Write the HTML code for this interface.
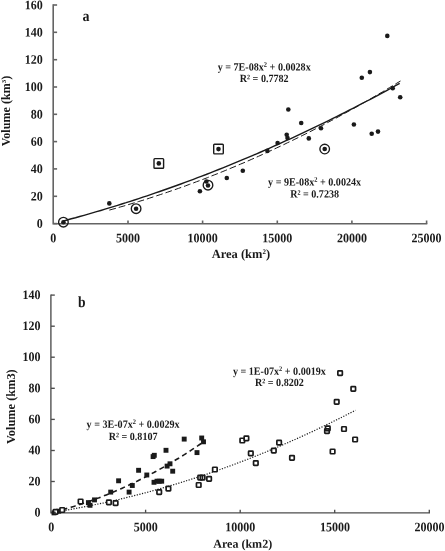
<!DOCTYPE html>
<html><head><meta charset="utf-8"><title>Volume vs Area</title>
<style>html,body{margin:0;padding:0;background:#fff}svg{display:block;will-change:transform}text{font-family:"Liberation Serif",serif;font-weight:bold;fill:#1a1a1a}</style></head><body>
<svg width="445" height="551" viewBox="0 0 445 551">
<rect width="445" height="551" fill="#fff"/>
<g stroke="#646464" stroke-width="1.6" fill="none">
<path d="M53.2 4.3 V223.8 H427.3"/>
<path d="M53.3 223.6 h3.8"/>
<path d="M53.3 196.3 h3.8"/>
<path d="M53.3 168.9 h3.8"/>
<path d="M53.3 141.6 h3.8"/>
<path d="M53.3 114.3 h3.8"/>
<path d="M53.3 87.0 h3.8"/>
<path d="M53.3 59.7 h3.8"/>
<path d="M53.3 32.3 h3.8"/>
<path d="M53.3 5.0 h3.8"/>
<path d="M128.0 223.8 v-3.3"/>
<path d="M202.6 223.8 v-3.3"/>
<path d="M277.3 223.8 v-3.3"/>
<path d="M351.9 223.8 v-3.3"/>
<path d="M426.6 223.8 v-3.3"/>
</g>
<text transform="translate(42.80 227.75) rotate(0.03) scale(0.925 1)" font-size="13.0" text-anchor="end">0</text>
<text transform="translate(42.80 200.43) rotate(0.03) scale(0.925 1)" font-size="13.0" text-anchor="end">20</text>
<text transform="translate(42.80 173.10) rotate(0.03) scale(0.925 1)" font-size="13.0" text-anchor="end">40</text>
<text transform="translate(42.80 145.78) rotate(0.03) scale(0.925 1)" font-size="13.0" text-anchor="end">60</text>
<text transform="translate(42.80 118.45) rotate(0.03) scale(0.925 1)" font-size="13.0" text-anchor="end">80</text>
<text transform="translate(42.80 91.12) rotate(0.03) scale(0.925 1)" font-size="13.0" text-anchor="end">100</text>
<text transform="translate(42.80 63.80) rotate(0.03) scale(0.925 1)" font-size="13.0" text-anchor="end">120</text>
<text transform="translate(42.80 36.47) rotate(0.03) scale(0.925 1)" font-size="13.0" text-anchor="end">140</text>
<text transform="translate(42.80 9.15) rotate(0.03) scale(0.925 1)" font-size="13.0" text-anchor="end">160</text>
<text transform="translate(53.30 242.15) rotate(0.03) scale(0.925 1)" font-size="13.0" text-anchor="middle">0</text>
<text transform="translate(127.96 242.15) rotate(0.03) scale(0.925 1)" font-size="13.0" text-anchor="middle">5000</text>
<text transform="translate(202.62 242.15) rotate(0.03) scale(0.925 1)" font-size="13.0" text-anchor="middle">10000</text>
<text transform="translate(277.28 242.15) rotate(0.03) scale(0.925 1)" font-size="13.0" text-anchor="middle">15000</text>
<text transform="translate(351.94 242.15) rotate(0.03) scale(0.925 1)" font-size="13.0" text-anchor="middle">20000</text>
<text transform="translate(426.60 242.15) rotate(0.03) scale(0.925 1)" font-size="13.0" text-anchor="middle">25000</text>
<text transform="translate(240.90 257.90) rotate(0.03) scale(1 1)" font-size="12.5" text-anchor="middle">Area (km<tspan font-size="7" dy="-3.8">2</tspan><tspan dy="3.8">)</tspan></text>
<text transform="translate(9.60 111.00) rotate(-90) scale(1 1)" font-size="12.1" text-anchor="middle">Volume (km<tspan font-size="7" dy="-4">3</tspan><tspan dy="4">)</tspan></text>
<text transform="translate(86.00 21.00) rotate(0.03) scale(0.9 1)" font-size="15.6" text-anchor="middle">a</text>
<polyline points="62.9,221.1 67.1,220.0 71.3,218.8 75.5,217.7 79.7,216.5 84.0,215.3 88.2,214.1 92.4,212.9 96.6,211.7 100.8,210.5 105.0,209.2 109.2,207.9 113.4,206.6 117.6,205.3 121.8,204.0 126.1,202.7 130.3,201.3 134.5,200.0 138.7,198.6 142.9,197.2 147.1,195.8 151.3,194.4 155.5,192.9 159.7,191.5 163.9,190.0 168.2,188.5 172.4,187.0 176.6,185.5 180.8,184.0 185.0,182.4 189.2,180.9 193.4,179.3 197.6,177.7 201.8,176.1 206.1,174.5 210.3,172.8 214.5,171.2 218.7,169.5 222.9,167.8 227.1,166.1 231.3,164.4 235.5,162.7 239.7,160.9 243.9,159.2 248.2,157.4 252.4,155.6 256.6,153.8 260.8,152.0 265.0,150.1 269.2,148.3 273.4,146.4 277.6,144.5 281.8,142.6 286.0,140.7 290.3,138.8 294.5,136.9 298.7,134.9 302.9,132.9 307.1,130.9 311.3,128.9 315.5,126.9 319.7,124.9 323.9,122.8 328.1,120.8 332.4,118.7 336.6,116.6 340.8,114.5 345.0,112.4 349.2,110.2 353.4,108.1 357.6,105.9 361.8,103.7 366.0,101.5 370.3,99.3 374.5,97.1 378.7,94.8 382.9,92.6 387.1,90.3 391.3,88.0 395.5,85.7 399.7,83.4" fill="none" stroke="#1a1a1a" stroke-width="1.4"/>
<polyline points="109.3,210.1 112.9,209.1 116.6,208.1 120.2,207.0 123.9,206.0 127.5,204.9 131.1,203.8 134.8,202.7 138.4,201.6 142.1,200.5 145.7,199.4 149.3,198.2 153.0,197.0 156.6,195.8 160.3,194.6 163.9,193.4 167.5,192.2 171.2,190.9 174.8,189.7 178.4,188.4 182.1,187.1 185.7,185.8 189.4,184.4 193.0,183.1 196.6,181.7 200.3,180.4 203.9,179.0 207.6,177.6 211.2,176.1 214.8,174.7 218.5,173.3 222.1,171.8 225.8,170.3 229.4,168.8 233.0,167.3 236.7,165.8 240.3,164.2 244.0,162.7 247.6,161.1 251.2,159.5 254.9,157.9 258.5,156.3 262.2,154.6 265.8,153.0 269.4,151.3 273.1,149.6 276.7,147.9 280.4,146.2 284.0,144.5 287.6,142.7 291.3,141.0 294.9,139.2 298.6,137.4 302.2,135.6 305.8,133.8 309.5,132.0 313.1,130.1 316.8,128.2 320.4,126.4 324.0,124.5 327.7,122.5 331.3,120.6 335.0,118.7 338.6,116.7 342.2,114.7 345.9,112.7 349.5,110.7 353.2,108.7 356.8,106.7 360.4,104.6 364.1,102.5 367.7,100.5 371.4,98.4 375.0,96.2 378.6,94.1 382.3,92.0 385.9,89.8 389.5,87.6 393.2,85.4 396.8,83.2 400.5,81.0" fill="none" stroke="#1a1a1a" stroke-width="1" stroke-dasharray="6.8 3"/>
<circle cx="63.4" cy="222.2" r="2.3" fill="#1a1a1a"/>
<circle cx="109.3" cy="203.4" r="2.3" fill="#1a1a1a"/>
<circle cx="136.1" cy="208.7" r="2.3" fill="#1a1a1a"/>
<circle cx="158.8" cy="163.4" r="2.3" fill="#1a1a1a"/>
<circle cx="218.5" cy="149.1" r="2.3" fill="#1a1a1a"/>
<circle cx="199.9" cy="191.3" r="2.3" fill="#1a1a1a"/>
<circle cx="206.4" cy="181.5" r="2.3" fill="#1a1a1a"/>
<circle cx="208.0" cy="185.5" r="2.3" fill="#1a1a1a"/>
<circle cx="226.8" cy="178.0" r="2.3" fill="#1a1a1a"/>
<circle cx="242.8" cy="170.7" r="2.3" fill="#1a1a1a"/>
<circle cx="267.4" cy="150.9" r="2.3" fill="#1a1a1a"/>
<circle cx="277.6" cy="143.0" r="2.3" fill="#1a1a1a"/>
<circle cx="286.7" cy="134.7" r="2.3" fill="#1a1a1a"/>
<circle cx="287.5" cy="138.0" r="2.3" fill="#1a1a1a"/>
<circle cx="288.3" cy="109.5" r="2.3" fill="#1a1a1a"/>
<circle cx="301.2" cy="123.0" r="2.3" fill="#1a1a1a"/>
<circle cx="308.8" cy="138.4" r="2.3" fill="#1a1a1a"/>
<circle cx="321.0" cy="128.3" r="2.3" fill="#1a1a1a"/>
<circle cx="324.7" cy="149.0" r="2.3" fill="#1a1a1a"/>
<circle cx="353.9" cy="124.5" r="2.3" fill="#1a1a1a"/>
<circle cx="371.7" cy="133.7" r="2.3" fill="#1a1a1a"/>
<circle cx="378.0" cy="131.6" r="2.3" fill="#1a1a1a"/>
<circle cx="387.3" cy="35.9" r="2.3" fill="#1a1a1a"/>
<circle cx="369.9" cy="72.1" r="2.3" fill="#1a1a1a"/>
<circle cx="361.8" cy="77.7" r="2.3" fill="#1a1a1a"/>
<circle cx="392.7" cy="88.2" r="2.3" fill="#1a1a1a"/>
<circle cx="400.2" cy="97.2" r="2.3" fill="#1a1a1a"/>
<circle cx="63.4" cy="222.2" r="4.8" fill="none" stroke="#1a1a1a" stroke-width="1.35"/>
<circle cx="136.1" cy="208.7" r="4.8" fill="none" stroke="#1a1a1a" stroke-width="1.35"/>
<circle cx="208.0" cy="185.2" r="4.8" fill="none" stroke="#1a1a1a" stroke-width="1.35"/>
<circle cx="324.7" cy="149.0" r="4.8" fill="none" stroke="#1a1a1a" stroke-width="1.35"/>
<rect x="154.0" y="158.6" width="9.6" height="9.6" rx="0.8" fill="none" stroke="#1a1a1a" stroke-width="1.4"/>
<rect x="213.7" y="144.3" width="9.6" height="9.6" rx="0.8" fill="none" stroke="#1a1a1a" stroke-width="1.4"/>
<text transform="translate(264.20 70.40) rotate(0.03) scale(0.92 1)" font-size="11.0" text-anchor="middle">y = 7E-08x<tspan font-size="7" dy="-3.7">2</tspan><tspan dy="3.7"> + 0.0028x</tspan></text>
<text transform="translate(264.20 82.00) rotate(0.03) scale(0.92 1)" font-size="11.0" text-anchor="middle">R² = 0.7782</text>
<text transform="translate(314.60 185.50) rotate(0.03) scale(0.92 1)" font-size="11.0" text-anchor="middle">y = 9E-08x<tspan font-size="7" dy="-3.7">2</tspan><tspan dy="3.7"> + 0.0024x</tspan></text>
<text transform="translate(314.60 197.60) rotate(0.03) scale(0.92 1)" font-size="11.0" text-anchor="middle">R² = 0.7238</text>
<g stroke="#4d4d4d" stroke-width="1.35" fill="none">
<path d="M50.9 294.4 V512.9 H430.0"/>
<path d="M51.0 512.6 h3.8"/>
<path d="M51.0 481.5 h3.8"/>
<path d="M51.0 450.5 h3.8"/>
<path d="M51.0 419.4 h3.8"/>
<path d="M51.0 388.3 h3.8"/>
<path d="M51.0 357.2 h3.8"/>
<path d="M51.0 326.2 h3.8"/>
<path d="M51.0 295.1 h3.8"/>
<path d="M145.6 512.9 v-3.2"/>
<path d="M240.2 512.9 v-3.2"/>
<path d="M334.7 512.9 v-3.2"/>
<path d="M429.3 512.9 v-3.2"/>
</g>
<text transform="translate(40.60 516.45) rotate(0.03) scale(0.925 1)" font-size="13.0" text-anchor="end">0</text>
<text transform="translate(40.60 485.38) rotate(0.03) scale(0.925 1)" font-size="13.0" text-anchor="end">20</text>
<text transform="translate(40.60 454.31) rotate(0.03) scale(0.925 1)" font-size="13.0" text-anchor="end">40</text>
<text transform="translate(40.60 423.24) rotate(0.03) scale(0.925 1)" font-size="13.0" text-anchor="end">60</text>
<text transform="translate(40.60 392.16) rotate(0.03) scale(0.925 1)" font-size="13.0" text-anchor="end">80</text>
<text transform="translate(40.60 361.09) rotate(0.03) scale(0.925 1)" font-size="13.0" text-anchor="end">100</text>
<text transform="translate(40.60 330.02) rotate(0.03) scale(0.925 1)" font-size="13.0" text-anchor="end">120</text>
<text transform="translate(40.60 298.95) rotate(0.03) scale(0.925 1)" font-size="13.0" text-anchor="end">140</text>
<text transform="translate(51.20 531.30) rotate(0.03) scale(0.925 1)" font-size="13.0" text-anchor="middle">0</text>
<text transform="translate(145.77 531.30) rotate(0.03) scale(0.925 1)" font-size="13.0" text-anchor="middle">5000</text>
<text transform="translate(240.35 531.30) rotate(0.03) scale(0.925 1)" font-size="13.0" text-anchor="middle">10000</text>
<text transform="translate(334.93 531.30) rotate(0.03) scale(0.925 1)" font-size="13.0" text-anchor="middle">15000</text>
<text transform="translate(429.50 531.30) rotate(0.03) scale(0.925 1)" font-size="13.0" text-anchor="middle">20000</text>
<text transform="translate(242.70 547.80) rotate(0.03) scale(1 1)" font-size="12.05" text-anchor="middle">Area (km2)</text>
<text transform="translate(14.50 406.60) rotate(-90) scale(1 1)" font-size="12.35" text-anchor="middle">Volume (km3)</text>
<text transform="translate(81.80 307.10) rotate(0.03) scale(0.88 1)" font-size="15.4" text-anchor="middle">b</text>
<polyline points="62.2,509.7 64.0,509.3 65.7,508.8 67.5,508.3 69.3,507.8 71.0,507.2 72.8,506.7 74.5,506.2 76.3,505.6 78.1,505.1 79.8,504.5 81.6,503.9 83.4,503.3 85.1,502.8 86.9,502.2 88.6,501.5 90.4,500.9 92.2,500.3 93.9,499.7 95.7,499.0 97.5,498.3 99.2,497.7 101.0,497.0 102.8,496.3 104.5,495.6 106.3,494.9 108.0,494.2 109.8,493.5 111.6,492.8 113.3,492.0 115.1,491.3 116.9,490.5 118.6,489.7 120.4,489.0 122.2,488.2 123.9,487.4 125.7,486.6 127.4,485.8 129.2,484.9 131.0,484.1 132.7,483.3 134.5,482.4 136.3,481.6 138.0,480.7 139.8,479.8 141.5,478.9 143.3,478.0 145.1,477.1 146.8,476.2 148.6,475.3 150.4,474.4 152.1,473.4 153.9,472.5 155.7,471.5 157.4,470.5 159.2,469.6 160.9,468.6 162.7,467.6 164.5,466.6 166.2,465.5 168.0,464.5 169.8,463.5 171.5,462.4 173.3,461.4 175.1,460.3 176.8,459.3 178.6,458.2 180.3,457.1 182.1,456.0 183.9,454.9 185.6,453.8 187.4,452.6 189.2,451.5 190.9,450.4 192.7,449.2 194.4,448.1 196.2,446.9 198.0,445.7 199.7,444.5 201.5,443.3 203.3,442.1" fill="none" stroke="#1a1a1a" stroke-width="1.6" stroke-dasharray="5.2 3.6"/>
<polyline points="54.8,512.0 58.5,511.4 62.3,510.8 66.1,510.2 69.8,509.5 73.6,508.8 77.3,508.1 81.1,507.4 84.9,506.7 88.6,506.0 92.4,505.2 96.1,504.4 99.9,503.7 103.7,502.9 107.4,502.0 111.2,501.2 114.9,500.3 118.7,499.5 122.5,498.6 126.2,497.7 130.0,496.7 133.7,495.8 137.5,494.8 141.2,493.9 145.0,492.9 148.8,491.9 152.5,490.8 156.3,489.8 160.0,488.7 163.8,487.6 167.6,486.6 171.3,485.4 175.1,484.3 178.8,483.2 182.6,482.0 186.4,480.8 190.1,479.6 193.9,478.4 197.6,477.2 201.4,475.9 205.2,474.7 208.9,473.4 212.7,472.1 216.4,470.8 220.2,469.5 224.0,468.1 227.7,466.7 231.5,465.4 235.2,464.0 239.0,462.5 242.8,461.1 246.5,459.7 250.3,458.2 254.0,456.7 257.8,455.2 261.5,453.7 265.3,452.2 269.1,450.6 272.8,449.0 276.6,447.5 280.3,445.9 284.1,444.2 287.9,442.6 291.6,440.9 295.4,439.3 299.1,437.6 302.9,435.9 306.7,434.2 310.4,432.4 314.2,430.7 317.9,428.9 321.7,427.1 325.5,425.3 329.2,423.5 333.0,421.6 336.7,419.8 340.5,417.9 344.3,416.0 348.0,414.1 351.8,412.2 355.5,410.3" fill="none" stroke="#1a1a1a" stroke-width="1.2" stroke-dasharray="1.2 1.5"/>
<rect x="51.55" y="510.45" width="4.9" height="4.9" fill="#1a1a1a"/>
<rect x="56.25" y="508.75" width="4.9" height="4.9" fill="#1a1a1a"/>
<rect x="85.95" y="500.15" width="4.9" height="4.9" fill="#1a1a1a"/>
<rect x="87.55" y="502.85" width="4.9" height="4.9" fill="#1a1a1a"/>
<rect x="92.05" y="497.45" width="4.9" height="4.9" fill="#1a1a1a"/>
<rect x="108.25" y="489.65" width="4.9" height="4.9" fill="#1a1a1a"/>
<rect x="116.15" y="478.35" width="4.9" height="4.9" fill="#1a1a1a"/>
<rect x="126.65" y="489.65" width="4.9" height="4.9" fill="#1a1a1a"/>
<rect x="129.85" y="483.05" width="4.9" height="4.9" fill="#1a1a1a"/>
<rect x="136.15" y="467.85" width="4.9" height="4.9" fill="#1a1a1a"/>
<rect x="144.35" y="472.55" width="4.9" height="4.9" fill="#1a1a1a"/>
<rect x="150.65" y="454.15" width="4.9" height="4.9" fill="#1a1a1a"/>
<rect x="151.85" y="452.85" width="4.9" height="4.9" fill="#1a1a1a"/>
<rect x="151.55" y="479.85" width="4.9" height="4.9" fill="#1a1a1a"/>
<rect x="154.55" y="478.75" width="4.9" height="4.9" fill="#1a1a1a"/>
<rect x="156.75" y="478.75" width="4.9" height="4.9" fill="#1a1a1a"/>
<rect x="159.25" y="478.75" width="4.9" height="4.9" fill="#1a1a1a"/>
<rect x="163.55" y="447.85" width="4.9" height="4.9" fill="#1a1a1a"/>
<rect x="164.65" y="463.65" width="4.9" height="4.9" fill="#1a1a1a"/>
<rect x="167.55" y="461.35" width="4.9" height="4.9" fill="#1a1a1a"/>
<rect x="170.25" y="468.75" width="4.9" height="4.9" fill="#1a1a1a"/>
<rect x="181.75" y="436.65" width="4.9" height="4.9" fill="#1a1a1a"/>
<rect x="194.55" y="450.15" width="4.9" height="4.9" fill="#1a1a1a"/>
<rect x="199.25" y="435.55" width="4.9" height="4.9" fill="#1a1a1a"/>
<rect x="201.05" y="439.35" width="4.9" height="4.9" fill="#1a1a1a"/>
<rect x="53.35" y="509.55" width="4.5" height="4.5" rx="0.6" fill="#fff" stroke="#1a1a1a" stroke-width="1.7"/>
<rect x="59.95" y="507.75" width="4.5" height="4.5" rx="0.6" fill="#fff" stroke="#1a1a1a" stroke-width="1.7"/>
<rect x="78.35" y="499.25" width="4.5" height="4.5" rx="0.6" fill="#fff" stroke="#1a1a1a" stroke-width="1.7"/>
<rect x="106.65" y="500.15" width="4.5" height="4.5" rx="0.6" fill="#fff" stroke="#1a1a1a" stroke-width="1.7"/>
<rect x="113.35" y="500.85" width="4.5" height="4.5" rx="0.6" fill="#fff" stroke="#1a1a1a" stroke-width="1.7"/>
<rect x="156.95" y="489.85" width="4.5" height="4.5" rx="0.6" fill="#fff" stroke="#1a1a1a" stroke-width="1.7"/>
<rect x="166.15" y="486.35" width="4.5" height="4.5" rx="0.6" fill="#fff" stroke="#1a1a1a" stroke-width="1.7"/>
<rect x="196.45" y="482.75" width="4.5" height="4.5" rx="0.6" fill="#fff" stroke="#1a1a1a" stroke-width="1.7"/>
<rect x="197.95" y="475.45" width="4.5" height="4.5" rx="0.6" fill="#fff" stroke="#1a1a1a" stroke-width="1.7"/>
<rect x="200.35" y="475.45" width="4.5" height="4.5" rx="0.6" fill="none" stroke="#1a1a1a" stroke-width="1.7"/>
<rect x="206.85" y="476.65" width="4.5" height="4.5" rx="0.6" fill="#fff" stroke="#1a1a1a" stroke-width="1.7"/>
<rect x="212.65" y="467.25" width="4.5" height="4.5" rx="0.6" fill="#fff" stroke="#1a1a1a" stroke-width="1.7"/>
<rect x="240.05" y="438.25" width="4.5" height="4.5" rx="0.6" fill="#fff" stroke="#1a1a1a" stroke-width="1.7"/>
<rect x="244.15" y="436.05" width="4.5" height="4.5" rx="0.6" fill="#fff" stroke="#1a1a1a" stroke-width="1.7"/>
<rect x="248.55" y="451.15" width="4.5" height="4.5" rx="0.6" fill="#fff" stroke="#1a1a1a" stroke-width="1.7"/>
<rect x="253.55" y="460.95" width="4.5" height="4.5" rx="0.6" fill="#fff" stroke="#1a1a1a" stroke-width="1.7"/>
<rect x="271.55" y="448.35" width="4.5" height="4.5" rx="0.6" fill="#fff" stroke="#1a1a1a" stroke-width="1.7"/>
<rect x="276.85" y="440.45" width="4.5" height="4.5" rx="0.6" fill="#fff" stroke="#1a1a1a" stroke-width="1.7"/>
<rect x="289.75" y="455.55" width="4.5" height="4.5" rx="0.6" fill="#fff" stroke="#1a1a1a" stroke-width="1.7"/>
<rect x="324.75" y="428.95" width="4.5" height="4.5" rx="0.6" fill="#fff" stroke="#1a1a1a" stroke-width="1.7"/>
<rect x="325.55" y="426.05" width="4.5" height="4.5" rx="0.6" fill="none" stroke="#1a1a1a" stroke-width="1.7"/>
<rect x="330.35" y="449.25" width="4.5" height="4.5" rx="0.6" fill="#fff" stroke="#1a1a1a" stroke-width="1.7"/>
<rect x="334.45" y="399.55" width="4.5" height="4.5" rx="0.6" fill="#fff" stroke="#1a1a1a" stroke-width="1.7"/>
<rect x="337.85" y="370.95" width="4.5" height="4.5" rx="0.6" fill="#fff" stroke="#1a1a1a" stroke-width="1.7"/>
<rect x="341.75" y="426.75" width="4.5" height="4.5" rx="0.6" fill="#fff" stroke="#1a1a1a" stroke-width="1.7"/>
<rect x="351.05" y="386.65" width="4.5" height="4.5" rx="0.6" fill="#fff" stroke="#1a1a1a" stroke-width="1.7"/>
<rect x="352.85" y="437.25" width="4.5" height="4.5" rx="0.6" fill="#fff" stroke="#1a1a1a" stroke-width="1.7"/>
<path d="M54.1 511.6 h1.3 v0.9 h0.9 v1 h-2.2z" fill="#1a1a1a"/>
<text transform="translate(133.10 427.80) rotate(0.03) scale(0.92 1)" font-size="11.0" text-anchor="middle">y = 3E-07x<tspan font-size="7" dy="-3.7">2</tspan><tspan dy="3.7"> + 0.0029x</tspan></text>
<text transform="translate(133.10 439.90) rotate(0.03) scale(0.92 1)" font-size="11.0" text-anchor="middle">R² = 0.8107</text>
<text transform="translate(279.40 374.80) rotate(0.03) scale(0.92 1)" font-size="11.0" text-anchor="middle">y = 1E-07x<tspan font-size="7" dy="-3.7">2</tspan><tspan dy="3.7"> + 0.0019x</tspan></text>
<text transform="translate(279.40 386.00) rotate(0.03) scale(0.92 1)" font-size="11.0" text-anchor="middle">R² = 0.8202</text>
</svg></body></html>
